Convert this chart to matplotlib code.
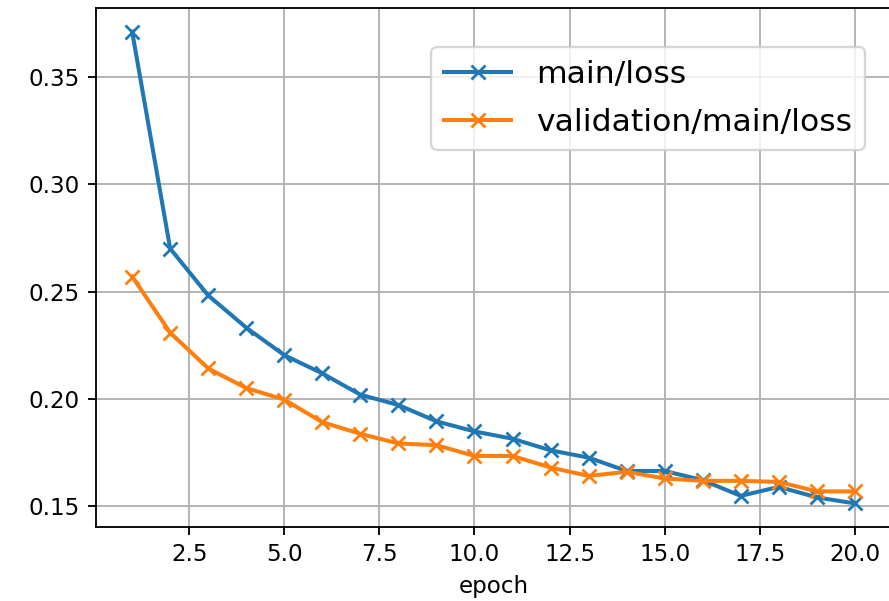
import matplotlib
matplotlib.use("Agg")
import matplotlib.pyplot as plt
from matplotlib.ticker import MultipleLocator

epochs = list(range(1, 21))
main_loss = [0.371, 0.270, 0.2482, 0.2332, 0.2204, 0.2119, 0.2020, 0.1972, 0.1896, 0.1849,
             0.1815, 0.1761, 0.1727, 0.1665, 0.1665, 0.1622, 0.1549, 0.1591, 0.1542, 0.1514]
val_loss = [0.257, 0.2309, 0.2142, 0.2051, 0.1997, 0.1892, 0.1838, 0.1793, 0.1785, 0.1735,
            0.1735, 0.1681, 0.1642, 0.1661, 0.1630, 0.1619, 0.1619, 0.1614, 0.1570, 0.1570]
labels = ["main/loss", "validation/main/loss"]

W, H = 889, 601
dpi = 166
fig = plt.figure(figsize=(W / dpi, H / dpi), dpi=dpi)
left, right, top, bottom = 96, 891, 8, 527
ax = fig.add_axes([left / W, 1 - bottom / H, (right - left) / W, (bottom - top) / H])

ax.plot(epochs, main_loss, marker="x", color="#1f77b4", lw=1.75, ms=6.5, mew=1.2, label=labels[0])
ax.plot(epochs, val_loss, marker="x", color="#ff7f0e", lw=1.75, ms=6.5, mew=1.2, label=labels[1])

ax.xaxis.set_major_locator(MultipleLocator(2.5))
ax.yaxis.set_major_locator(MultipleLocator(0.05))
ax.grid(True)
ax.set_xlabel("epoch")
ax.legend(loc="upper right", bbox_to_anchor=(865 / W, 1 - 47 / H),
          bbox_transform=fig.transFigure, borderaxespad=0, fontsize=13.6,
          handlelength=2.15, labelspacing=0.62)

fig.savefig("out.png", dpi=dpi)
